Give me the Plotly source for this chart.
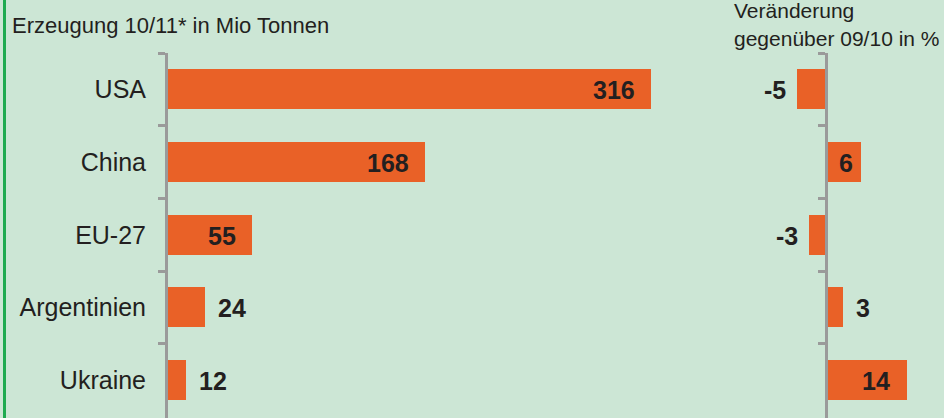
import plotly.graph_objects as go

countries = ["USA", "China", "EU-27", "Argentinien", "Ukraine"]
production = [316, 168, 55, 24, 12]          # Mio Tonnen 10/11
change_pct = [-5, 6, -3, 3, 14]              # % vs 09/10

W, H = 944, 418
BG = "#CCE6D5"
ORANGE = "#E96127"
AXIS = "#9A9A9A"
TXT = "#231F20"
NARROW = "Liberation Sans Narrow, Arial Narrow, Liberation Sans, Arial, sans-serif"
REG = "Liberation Sans, Arial, sans-serif"
LBL = 25
NUM = 25

fig = go.Figure()
fig.add_bar(y=countries, x=production, orientation="h", marker=dict(color=ORANGE, line=dict(width=0)),
            width=0.55, xaxis="x", yaxis="y", hoverinfo="skip", showlegend=False)
fig.add_bar(y=countries, x=change_pct, orientation="h", marker=dict(color=ORANGE, line=dict(width=0)),
            width=0.55, xaxis="x2", yaxis="y2", hoverinfo="skip", showlegend=False)

px_per_unit1 = 1.528
px_per_unit2 = 5.8
x0_1, x1_1 = 168, 700
x0_2, zero2 = 700, 826

ydom = [0, (H - 53) / H]
yrange = [4.52, -0.5]
yax = dict(type="category", categoryorder="array", categoryarray=countries, range=yrange, domain=ydom,
           showline=True, linecolor=AXIS, linewidth=3, ticks="outside", tickson="boundaries",
           ticklen=7, tickwidth=3, tickcolor=AXIS, showgrid=False, zeroline=False)

annotations = []
# values, left panel
for c, v in zip(countries, production):
    inside = v * px_per_unit1 > 60
    annotations.append(dict(x=v, y=c, xref="x", yref="y", text=str(v), showarrow=False,
                            xanchor="right" if inside else "left", xshift=-14 if inside else 11,
                            yshift=-1,
                            font=dict(family=NARROW, size=NUM, color=TXT, weight="bold")))
# values, right panel
for c, v in zip(countries, change_pct):
    w = abs(v) * px_per_unit2
    inside = w > 30
    if v < 0:
        annotations.append(dict(x=v, y=c, xref="x2", yref="y2", text=str(v), showarrow=False,
                                xanchor="right", xshift=-9, yshift=-1,
                                font=dict(family=NARROW, size=NUM, color=TXT, weight="bold")))
    else:
        annotations.append(dict(x=v, y=c, xref="x2", yref="y2", text=str(v), showarrow=False,
                                xanchor="right" if inside else "left",
                                xshift=(-6 if w < 50 else -15) if inside else 11, yshift=-1,
                                font=dict(family=NARROW, size=NUM, color=TXT, weight="bold")))

annotations += [
    dict(x=10 / W, y=1 - 25 / H, xref="paper", yref="paper", xanchor="left", yanchor="middle",
         text="Erzeugung 10/11* in Mio Tonnen", showarrow=False, font=dict(family=REG, size=22, color=TXT)),
    dict(x=732 / W, y=1 - 11 / H, xref="paper", yref="paper", xanchor="left", yanchor="middle",
         text="Veränderung", showarrow=False, font=dict(family=REG, size=21, color=TXT)),
    dict(x=732 / W, y=1 - 38 / H, xref="paper", yref="paper", xanchor="left", yanchor="middle",
         text="gegenüber 09/10 in %", showarrow=False, font=dict(family=REG, size=21, color=TXT)),
]

fig.update_layout(
    width=W, height=H, margin=dict(l=0, r=0, t=0, b=0),
    paper_bgcolor=BG, plot_bgcolor=BG, bargap=0,
    xaxis=dict(domain=[x0_1 / W, x1_1 / W], range=[0, (x1_1 - x0_1) / px_per_unit1], visible=False),
    xaxis2=dict(domain=[x0_2 / W, 1], range=[-(zero2 - x0_2) / px_per_unit2, (W - zero2) / px_per_unit2],
                visible=False),
    yaxis=dict(**yax, anchor="x", ticklabelstandoff=14,
               tickfont=dict(family=NARROW, size=LBL, color=TXT)),
    yaxis2=dict(**yax, anchor="free", position=zero2 / W, showticklabels=False),
    annotations=annotations,
    shapes=[dict(type="line", xref="paper", yref="paper", x0=4.5 / W, x1=4.5 / W, y0=0, y1=1,
                 line=dict(color="#1FAA50", width=3))],
)

fig.write_html("out.html", config={"displayModeBar": False},
               post_script="document.body.style.margin='0';document.body.style.overflow='hidden';")
